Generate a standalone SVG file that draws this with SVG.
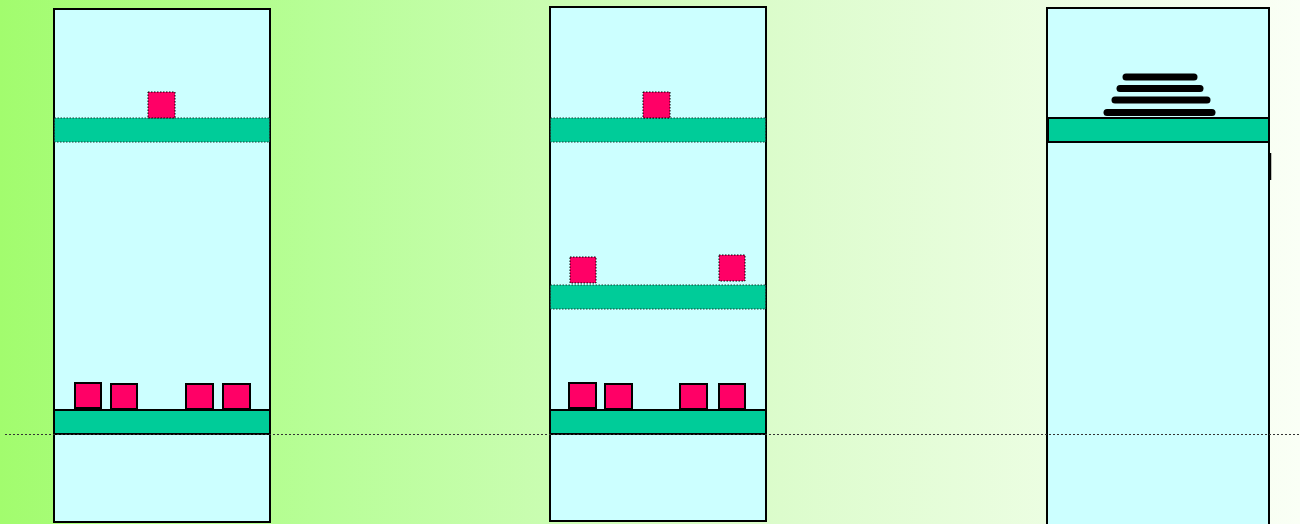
<svg xmlns="http://www.w3.org/2000/svg" width="1300" height="524" viewBox="0 0 1300 524">
<defs>
<linearGradient id="bg" x1="0" y1="0" x2="1" y2="0">
<stop offset="0" stop-color="#a2fc6e"/>
<stop offset="0.25" stop-color="#b8fe98"/>
<stop offset="0.6" stop-color="#dcfccc"/>
<stop offset="1" stop-color="#fafff6"/>
</linearGradient>
<style>
.col{fill:#ccffff;stroke:#000;stroke-width:2}
.bar{fill:#00cc99;stroke:#000;stroke-width:2}
.bard{fill:#00cc99;stroke:#1a3a30;stroke-width:1;stroke-dasharray:1.5 1.5}
.sq{fill:#ff0066;stroke:#000;stroke-width:2}
.sqd{fill:#ff0066;stroke:#000;stroke-width:1;stroke-dasharray:1.5 1.5}
.blob{stroke:#000;stroke-width:7;stroke-linecap:round;fill:none}
.ref{stroke:#333;stroke-width:1;stroke-dasharray:2 2}
</style>
</defs>
<rect x="0" y="0" width="1300" height="524" fill="url(#bg)"/>
<g id="column1">
<rect class="col" x="54" y="9" width="216" height="513"/>
<rect class="bard" x="54.5" y="118" width="215" height="24"/>
<rect class="sqd" x="148" y="92" width="27" height="26"/>
<rect class="bar" x="54" y="410" width="216" height="24"/>
<rect class="sq" x="75" y="383" width="26" height="25"/>
<rect class="sq" x="111" y="384" width="26" height="25"/>
<rect class="sq" x="186" y="384" width="27" height="25"/>
<rect class="sq" x="223" y="384" width="27" height="25"/>
</g>
<g id="column2">
<rect class="col" x="550" y="7" width="216" height="514"/>
<rect class="bard" x="550.5" y="118" width="215" height="24"/>
<rect class="sqd" x="643" y="92" width="27" height="26"/>
<rect class="bard" x="550.5" y="285" width="215" height="24"/>
<rect class="sqd" x="570" y="257" width="26" height="26"/>
<rect class="sqd" x="719" y="255" width="26" height="26"/>
<rect class="bar" x="550" y="410" width="216" height="24"/>
<rect class="sq" x="569" y="383" width="27" height="25"/>
<rect class="sq" x="605" y="384" width="27" height="25"/>
<rect class="sq" x="680" y="384" width="27" height="25"/>
<rect class="sq" x="719" y="384" width="26" height="25"/>
</g>
<g id="column3">
<rect class="col" x="1047" y="8" width="222" height="520"/>
<rect class="bar" x="1048" y="118" width="221" height="24"/>
<line x1="1270.5" y1="153" x2="1270.5" y2="180" stroke="#000" stroke-width="1.5"/>
<line class="blob" x1="1126" y1="77" x2="1194" y2="77"/>
<line class="blob" x1="1120" y1="88.5" x2="1200" y2="88.5"/>
<line class="blob" x1="1115" y1="100" x2="1207" y2="100"/>
<line class="blob" x1="1107" y1="112.5" x2="1212" y2="112.5"/>
</g>
<g id="connectors">
<line class="ref" x1="5" y1="434.5" x2="1300" y2="434.5"/>
</g>
</svg>
